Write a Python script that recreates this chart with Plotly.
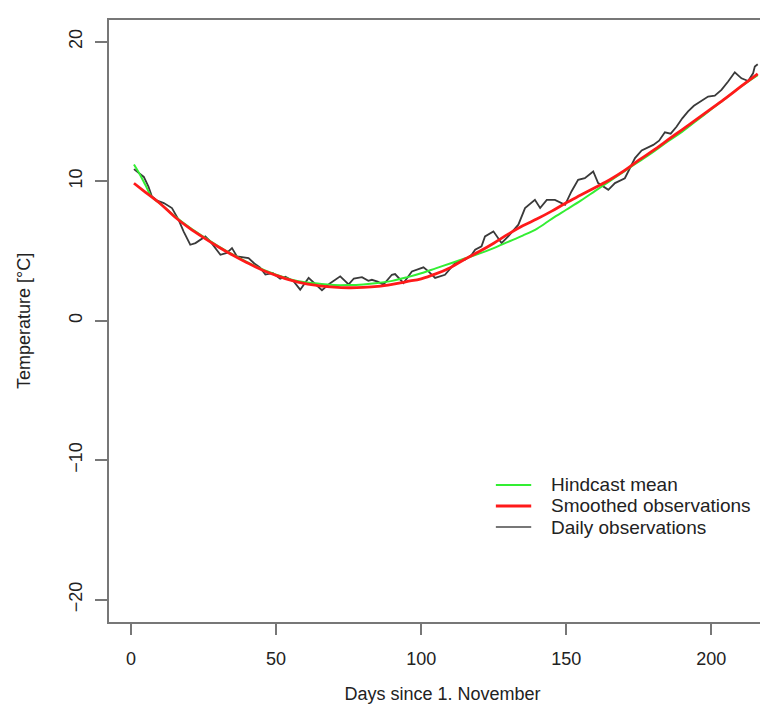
import plotly.graph_objects as go

# Smoothed observations (red)
smooth_days = [1, 5, 10, 15, 20, 25, 30, 35, 40, 45, 50, 55, 60, 65, 70, 75, 80, 85, 90, 95,
               100, 105, 110, 115, 120, 125, 130, 135, 140, 145, 150, 155, 160, 165, 170, 175,
               180, 185, 190, 195, 200, 205, 210, 216]
smooth_temp = [9.85, 9.2, 8.4, 7.45, 6.65, 5.95, 5.3, 4.7, 4.15, 3.65, 3.25, 2.9, 2.65, 2.5, 2.4, 2.36,
               2.38, 2.45, 2.6, 2.8, 3.0, 3.35, 3.8, 4.4, 4.95, 5.55, 6.2, 6.8, 7.3, 7.85, 8.45, 9.0,
               9.55, 10.1, 10.75, 11.5, 12.2, 12.95, 13.7, 14.45, 15.2, 15.95, 16.75, 17.69]

# Hindcast mean (green)
hind_days = [1, 3, 5, 7, 10, 15, 20, 25, 30, 35, 40, 45, 50, 55, 60, 65, 70, 75, 80, 85, 90, 95,
             100, 105, 110, 115, 120, 125, 130, 135, 140, 145, 150, 155, 160, 165, 170, 175,
             180, 185, 190, 195, 200, 205, 210, 216]
hind_temp = [11.2, 10.5, 9.7, 8.9, 8.4, 7.5, 6.7, 6.0, 5.35, 4.75, 4.2, 3.7, 3.3, 2.95, 2.75, 2.65,
             2.55, 2.55, 2.6, 2.7, 2.85, 3.1, 3.4, 3.75, 4.1, 4.45, 4.8, 5.2, 5.65, 6.1, 6.6, 7.3,
             7.95, 8.6, 9.3, 10.0, 10.7, 11.4, 12.1, 12.85, 13.55, 14.35, 15.15, 15.95, 16.75, 17.6]

# Daily observations (black)
obs_days = [1, 3, 4.4, 6, 7.2, 9, 11.3, 14.1, 16.4, 18.1, 20.4, 22.2, 25.6, 27.3, 30.8, 33, 34.8,
            36.5, 38.8, 40.5, 42.5, 44.5, 46.3, 48.8, 51.4, 53.2, 56, 58.3, 61.2, 63, 65.8, 68.4,
            72.1, 75, 76.8, 79.6, 81.8, 83, 85, 87, 89.9, 91, 93.9, 96.8, 100.8, 102.5, 104.8,
            108.2, 111.7, 115.1, 117.4, 118.6, 120.8, 122, 124.9, 127.7, 130, 133.5, 135.8, 139.2,
            141, 143.3, 146.1, 149.6, 151.8, 154.1, 156.4, 159.3, 161, 164.5, 166.8, 170.2, 171.9,
            173.7, 176, 178, 180, 182, 184, 186, 188, 190, 192, 194, 195.5, 198.9, 201.2, 203.5,
            205.8, 208.1, 210.4, 212.7, 214.4, 215, 216]
obs_temp = [10.86, 10.5, 10.3, 9.6, 8.9, 8.6, 8.43, 8.07, 7.23, 6.4, 5.44, 5.56, 6.04, 5.68, 4.72,
            4.85, 5.2, 4.61, 4.55, 4.49, 4.1, 3.8, 3.3, 3.41, 3.0, 3.15, 2.82, 2.22, 3.06, 2.7, 2.18,
            2.65, 3.18, 2.6, 3.02, 3.12, 2.85, 2.93, 2.8, 2.58, 3.29, 3.34, 2.7, 3.53, 3.82, 3.53,
            3.06, 3.29, 4.13, 4.37, 4.72, 5.08, 5.33, 6.04, 6.4, 5.56, 6.04, 6.88, 8.07, 8.66, 8.07,
            8.66, 8.66, 8.3, 9.26, 10.09, 10.21, 10.69, 9.86, 9.38, 9.86, 10.21, 10.93, 11.65, 12.2,
            12.4, 12.6, 12.9, 13.5, 13.4, 13.9, 14.5, 15.0, 15.4, 15.6, 16.06, 16.13, 16.54, 17.14,
            17.8, 17.37, 17.18, 17.73, 18.21, 18.38]

x_ticks = [0, 50, 100, 150, 200]
y_ticks = [-20, -10, 0, 10, 20]

legend_labels = ["Hindcast mean", "Smoothed observations", "Daily observations"]
legend_colors = ["#33ee33", "#ff1a1a", "#777777"]
legend_widths = [2, 3, 2]

FONT = "Liberation Sans, Arial, sans-serif"
TXT = "#222222"

fig = go.Figure()
fig.add_trace(go.Scatter(x=obs_days, y=obs_temp, mode="lines", name=legend_labels[2],
                         line=dict(color="#3a3a3a", width=1.8)))
fig.add_trace(go.Scatter(x=hind_days, y=hind_temp, mode="lines", name=legend_labels[0],
                         line=dict(color="#33ee33", width=2, shape="spline")))
fig.add_trace(go.Scatter(x=smooth_days, y=smooth_temp, mode="lines", name=legend_labels[1],
                         line=dict(color="#ff1a1a", width=2.8, shape="spline")))

# manual legend (paper coordinates) to reproduce the compact R-style legend
row_y = [0.2276, 0.1927, 0.1578]
for lab, col, w, yy in zip(legend_labels, legend_colors, legend_widths, row_y):
    fig.add_shape(type="line", xref="paper", yref="paper", x0=0.580, x1=0.633, y0=yy, y1=yy,
                  line=dict(color=col, width=w))
    fig.add_annotation(xref="paper", yref="paper", x=0.659, y=yy, text=lab, showarrow=False,
                       xanchor="left", yanchor="middle",
                       font=dict(family=FONT, size=19, color=TXT))

fig.update_layout(
    width=768, height=708,
    margin=dict(l=101, r=0, t=12, b=94),
    paper_bgcolor="white", plot_bgcolor="white",
    font=dict(family=FONT, size=18, color=TXT),
    showlegend=False,
    xaxis=dict(range=[-7.6, 222.3], tickvals=x_ticks, ticks="outside", ticklen=11,
               tickwidth=1.5, tickcolor="#777", showline=True, linecolor="#777", linewidth=1.6,
               mirror=True, showgrid=False, zeroline=False, ticklabelstandoff=9,
               title=dict(text="Days since 1. November", standoff=19,
                          font=dict(size=18, color=TXT))),
    yaxis=dict(range=[-21.6, 21.55], tickvals=y_ticks, ticks="outside", ticklen=12,
               tickwidth=1.5, tickcolor="#777", showline=True, linecolor="#777", linewidth=1.6,
               mirror=False, showgrid=False, zeroline=False, tickangle=-90,
               ticklabelstandoff=6,
               title=dict(text="Temperature [°C]", standoff=31,
                          font=dict(size=18, color=TXT))),
)

fig.write_html("out.html")
